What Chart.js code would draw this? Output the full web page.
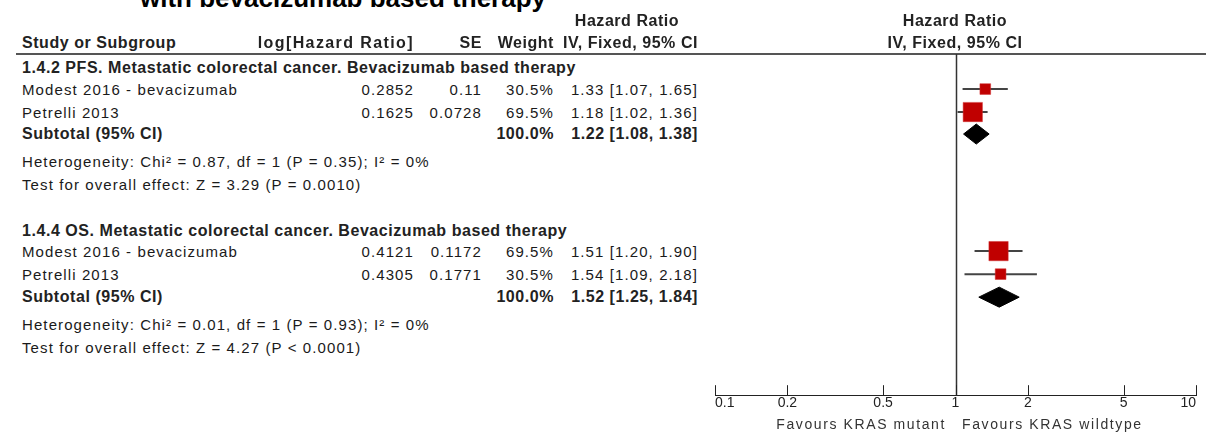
<!DOCTYPE html>
<html>
<head>
<meta charset="utf-8">
<script src="https://cdn.jsdelivr.net/npm/chart.js@4.4.0/dist/chart.umd.min.js"></script>
<style>
  html, body { margin: 0; padding: 0; background: #fff; }
  #page { position: relative; width: 1211px; height: 436px; overflow: hidden; font-family: 'Liberation Sans', Arial, sans-serif; color: #1a1a1a; }
  .t { position: absolute; height: 20px; line-height: 20px; white-space: nowrap; font-size: 15px; letter-spacing: 1.1px; }
  .b { font-weight: bold; font-size: 16px; letter-spacing: 0.55px; color: #222; }
  .wide { letter-spacing: 1.4px; }
  .f { font-size: 14px; letter-spacing: 1.6px; color: #333; }
  #title { position: absolute; left: 140px; top: -17px; line-height: 30px; font-size: 26px; font-weight: bold; color: #000; white-space: nowrap; }
  #rule { position: absolute; left: 16px; top: 53px; width: 1190px; height: 2px; background: #555; }
  #plot { position: absolute; left: 700px; top: 0; width: 511px; height: 436px; }
</style>
</head>
<body>
<div id="page">
  <div id="title">with bevacizumab based therapy</div>
  <div id="rule"></div>
  <div id="plot"><canvas id="forest"></canvas></div>
</div>
<script>
// data
const groupTitles = [
  '1.4.2 PFS. Metastatic colorectal cancer. Bevacizumab based therapy',
  '1.4.4 OS. Metastatic colorectal cancer. Bevacizumab based therapy'
];
const studyNames = [
  ['Modest 2016 - bevacizumab', 'Petrelli 2013'],
  ['Modest 2016 - bevacizumab', 'Petrelli 2013']
];
const logHR = [['0.2852', '0.1625'], ['0.4121', '0.4305']];
const seValues = [['0.11', '0.0728'], ['0.1172', '0.1771']];
const weights = [[30.5, 69.5], [69.5, 30.5]];
const hr = [[1.33, 1.18], [1.51, 1.54]];
const ciLow = [[1.07, 1.02], [1.20, 1.09]];
const ciHigh = [[1.65, 1.36], [1.90, 2.18]];
const subtotalHR = [1.22, 1.52];
const subtotalLow = [1.08, 1.25];
const subtotalHigh = [1.38, 1.84];
const heterogeneity = [
  'Heterogeneity: Chi² = 0.87, df = 1 (P = 0.35); I² = 0%',
  'Heterogeneity: Chi² = 0.01, df = 1 (P = 0.93); I² = 0%'
];
const overallEffect = [
  'Test for overall effect: Z = 3.29 (P = 0.0010)',
  'Test for overall effect: Z = 4.27 (P < 0.0001)'
];
const xTicks = [0.1, 0.2, 0.5, 1, 2, 5, 10];
const favours = ['Favours KRAS mutant', 'Favours KRAS wildtype'];

// layout: row centres (page px) for heading, study 1, study 2, subtotal, heterogeneity, overall effect
const rowY = [
  [68, 90, 113, 134, 162, 185],
  [231, 252, 275, 297, 325, 348]
];
const col = { name: 22, logHR: 414, se: 482, weight: 554, ci: 698 };

const page = document.getElementById('page');

function addText(text, x, y, align, cls) {
  const el = document.createElement('div');
  el.className = 't' + (cls ? ' ' + cls : '');
  el.textContent = text;
  el.style.top = (y - 10) + 'px';
  if (align === 'right') {
    el.style.left = (x - 400) + 'px';
    el.style.width = '400px';
    el.style.textAlign = 'right';
  } else if (align === 'center') {
    el.style.left = (x - 150) + 'px';
    el.style.width = '300px';
    el.style.textAlign = 'center';
  } else {
    el.style.left = x + 'px';
  }
  page.appendChild(el);
  return el;
}

function fmt(v) { return v.toFixed(2); }

// table header
addText('Hazard Ratio', 627, 21, 'center', 'b');
addText('Hazard Ratio', 955, 21, 'center', 'b');
addText('Study or Subgroup', col.name, 43, 'left', 'b');
addText('log[Hazard Ratio]', col.logHR, 43, 'right', 'b wide');
addText('SE', col.se, 43, 'right', 'b');
addText('Weight', col.weight, 43, 'right', 'b');
addText('IV, Fixed, 95% CI', col.ci, 43, 'right', 'b');
addText('IV, Fixed, 95% CI', 955, 43, 'center', 'b');

groupTitles.forEach((title, g) => {
  const ys = rowY[g];
  addText(title, col.name, ys[0], 'left', 'b');
  studyNames[g].forEach((name, i) => {
    const y = ys[1 + i];
    addText(name, col.name, y);
    addText(logHR[g][i], col.logHR, y, 'right');
    addText(seValues[g][i], col.se, y, 'right');
    addText(weights[g][i].toFixed(1) + '%', col.weight, y, 'right');
    addText(fmt(hr[g][i]) + ' [' + fmt(ciLow[g][i]) + ', ' + fmt(ciHigh[g][i]) + ']', col.ci, y, 'right');
  });
  addText('Subtotal (95% CI)', col.name, ys[3], 'left', 'b');
  const total = weights[g].reduce((a, b) => a + b, 0);
  addText(total.toFixed(1) + '%', col.weight, ys[3], 'right', 'b');
  addText(fmt(subtotalHR[g]) + ' [' + fmt(subtotalLow[g]) + ', ' + fmt(subtotalHigh[g]) + ']', col.ci, ys[3], 'right', 'b');
  addText(heterogeneity[g], col.name, ys[4]);
  addText(overallEffect[g], col.name, ys[5]);
});

addText(favours[0], 946, 424, 'right', 'f');
addText(favours[1], 962, 424, 'left', 'f');

// datasets
const squarePoints = [];
const squareRadius = [];
const whiskers = [];
const diamonds = [];
groupTitles.forEach((t, g) => {
  const ys = rowY[g];
  hr[g].forEach((v, i) => {
    const y = ys[1 + i] - 1;
    squarePoints.push({ x: v, y: y });
    squareRadius.push((4 + weights[g][i] * 0.22) / 1.414);
    whiskers.push({
      data: [{ x: ciLow[g][i], y: y }, { x: ciHigh[g][i], y: y }],
      showLine: true,
      borderColor: '#444',
      borderWidth: 2,
      pointRadius: 0
    });
  });
  const dy = ys[3];
  diamonds.push({
    data: [
      { x: subtotalLow[g], y: dy },
      { x: subtotalHR[g], y: dy - 10 },
      { x: subtotalHigh[g], y: dy },
      { x: subtotalHR[g], y: dy + 10 },
      { x: subtotalLow[g], y: dy }
    ],
    showLine: true,
    fill: 'shape',
    backgroundColor: '#000',
    borderColor: '#000',
    borderWidth: 1,
    pointRadius: 0,
    tension: 0
  });
});

const forestLines = {
  id: 'forestLines',
  afterDraw(chart) {
    const ctx = chart.ctx;
    const xs = chart.scales.x;
    const area = chart.chartArea;
    ctx.save();
    ctx.strokeStyle = '#333';
    ctx.lineWidth = 1.5;
    const x1 = Math.round(xs.getPixelForValue(1)) + 0.5;
    ctx.beginPath();
    ctx.moveTo(x1, area.top - 1);
    ctx.lineTo(x1, area.bottom);
    ctx.stroke();
    ctx.lineWidth = 1;
    ctx.strokeStyle = '#222';
    xTicks.forEach(v => {
      const px = Math.round(xs.getPixelForValue(v)) + 0.5;
      ctx.beginPath();
      ctx.moveTo(px, area.bottom);
      ctx.lineTo(px, area.bottom - 10);
      ctx.stroke();
    });
    ctx.restore();
  }
};

new Chart(document.getElementById('forest'), {
  type: 'scatter',
  data: {
    datasets: [
      {
        data: squarePoints,
        pointStyle: 'rect',
        pointRadius: squareRadius,
        backgroundColor: '#c00000',
        borderColor: '#d03030',
        borderWidth: 0.5
      },
      ...diamonds,
      ...whiskers
    ]
  },
  options: {
    responsive: true,
    maintainAspectRatio: false,
    animation: false,
    layout: { padding: { left: 15, right: 15, top: 55, bottom: 24 } },
    plugins: {
      legend: { display: false },
      tooltip: { enabled: false }
    },
    scales: {
      x: {
        type: 'logarithmic',
        min: 0.1,
        max: 10,
        afterBuildTicks: scale => { scale.ticks = xTicks.map(v => ({ value: v })); },
        ticks: {
          align: 'inner',
          autoSkip: false,
          maxRotation: 0,
          padding: 0,
          color: '#222',
          font: { family: 'Liberation Sans', size: 14 },
          callback: v => String(v)
        },
        grid: { display: false, drawTicks: false },
        border: { display: true, color: '#222', width: 1 }
      },
      y: {
        type: 'linear',
        reverse: true,
        min: 55,
        max: 395,
        display: false
      }
    }
  },
  plugins: [forestLines]
});
</script>
</body>
</html>
